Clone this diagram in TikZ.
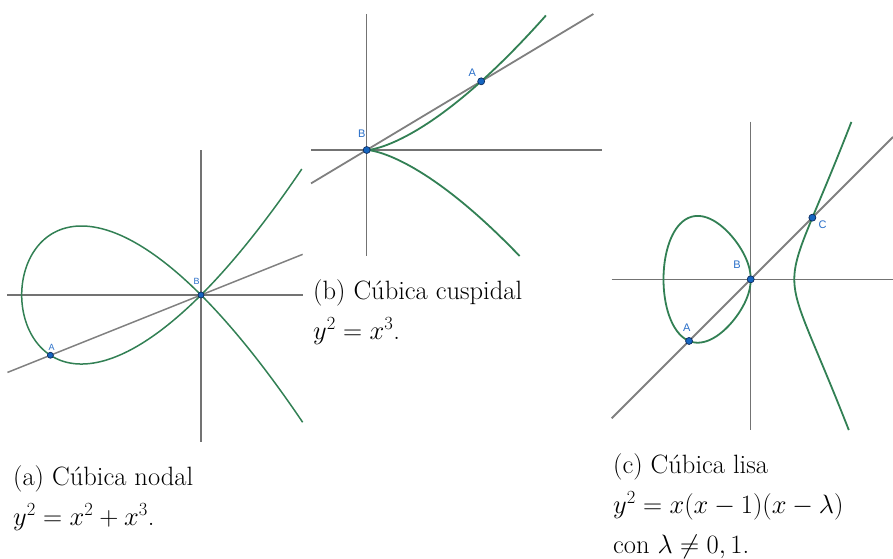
\RequirePackage{fix-cm}
\documentclass[tikz,border=0pt]{standalone}
\usepackage{fontspec}
\newfontfamily\lblfont{Liberation Sans}
\definecolor{curvegreen}{RGB}{50,128,84}
\definecolor{axisgray}{RGB}{115,115,115}
\definecolor{linegray}{RGB}{128,128,128}
\definecolor{ptblue}{RGB}{21,101,192}
\definecolor{ptdark}{RGB}{15,45,95}
\definecolor{lblblue}{RGB}{40,110,200}
\begin{document}
\begin{tikzpicture}[x=1pt,y=-1pt,
  axis/.style={draw=axisgray, line width=1.2pt},
  curve/.style={draw=curvegreen, line width=1.8pt, line join=round},
  secant/.style={draw=linegray, line width=1.8pt},
  ptmark/.style={circle, fill=ptblue, draw=ptdark, line width=0.7pt, inner sep=0pt, minimum size=7pt},
  lbl/.style={text=lblblue, font=\lblfont\fontsize{11}{11}\selectfont, inner sep=0pt},
  caption/.style={anchor=base west, inner sep=0pt, font=\fontsize{26.5}{40}\selectfont}]
\useasboundingbox (0,0) rectangle (893,558);

% ---------- (a) nodal cubic ----------
\begin{scope}[shift={(201,295)}, x=179.3pt, y=179.3pt]
  \draw[axis] (-1.0795,0) -- (0.567,0);
  \draw[axis] (0,0.8087) -- (0,-0.818);
  \coordinate (aL) at (-1.0795,-0.4318);
  \coordinate (aR) at (0.567,0.2268);
  \draw[secant, line width=1.5pt] (aL) -- (aR);
  \draw[curve, line width=1.5pt] plot[domain=-1.2518:1.2518, samples=240, smooth, variable=\t]
     ({\t*\t-1},{\t*(\t*\t-1)});
  \node[ptmark, minimum size=6pt] (aA) at (-0.84,-0.336) {};
  \node[ptmark, minimum size=6pt] (aB) at (0,0) {};
\end{scope}
\node[lbl, font=\lblfont\fontsize{9}{9}\selectfont] (laA) at (51.7,347.3) {A};
\node[lbl, font=\lblfont\fontsize{9}{9}\selectfont] (laB) at (196.7,281.7) {B};

% ---------- (b) cuspidal cubic ----------
\begin{scope}[shift={(366.7,150)}, x=318pt, y=318pt]
  \draw[axis] (-0.1751,0) -- (0.7412,0);
  \draw[axis] (0,0.4277) -- (0,-0.3333);
  \coordinate (bL) at (-0.1751,-0.1051);
  \coordinate (bR) at (0.7128,0.4277);
  \draw[secant] (bL) -- (bR);
  \draw[curve] plot[domain=-0.6934:0.7536, samples=240, smooth, variable=\t]
     ({\t*\t},{\t*\t*\t});
  \node[ptmark] (bA) at (0.36,0.216) {};
  \node[ptmark] (bB) at (0,0) {};
\end{scope}
\node[lbl] (lbA) at (472.3,72.7) {A};
\node[lbl] (lbB) at (361.7,133.3) {B};

% ---------- (c) smooth cubic ----------
\begin{scope}[shift={(750.7,279.3)}, x=43.6pt, y=43.6pt]
  \draw[axis] (-3.188,0) -- (3.264,0);
  \draw[axis] (0,3.615) -- (0,-3.456);
  \coordinate (cL) at (-3.188,-3.188);
  \coordinate (cR) at (3.264,3.264);
  \draw[secant] (cL) -- (cR);
  \draw[curve] plot[domain=0:360, samples=240, smooth, variable=\t]
     ({-1+cos(\t)},{sin(\t)*sqrt(2-cos(\t))}) -- cycle;
  \draw[curve] plot[domain=-1.118:1.145, samples=200, smooth, variable=\t]
     ({1+\t*\t},{\t*sqrt((1+\t*\t)*(3+\t*\t))});
  \node[ptmark] (cA) at (-1.4142,-1.4142) {};
  \node[ptmark] (cB) at (0,0) {};
  \node[ptmark] (cC) at (1.4142,1.4142) {};
\end{scope}
\node[lbl] (lcA) at (686.7,328) {A};
\node[lbl] (lcB) at (737,265) {B};
\node[lbl] (lcC) at (822.7,224.3) {C};

% ---------- captions ----------
\node[caption] (capa1) at (13,485) {(a) Cúbica nodal};
\node[caption] (capa2) at (13,525) {$y^2=x^2+x^3$.};
\node[caption] (capb1) at (313,299) {(b) Cúbica cuspidal};
\node[caption] (capb2) at (313,339) {$y^2=x^3$.};
\node[caption] (capc1) at (613,473) {(c) Cúbica lisa};
\node[caption] (capc2) at (613,513) {$y^2=x(x-1)(x-\lambda)$};
\node[caption] (capc3) at (613,553) {con $\lambda\neq 0,1$.};
\end{tikzpicture}
\end{document}
